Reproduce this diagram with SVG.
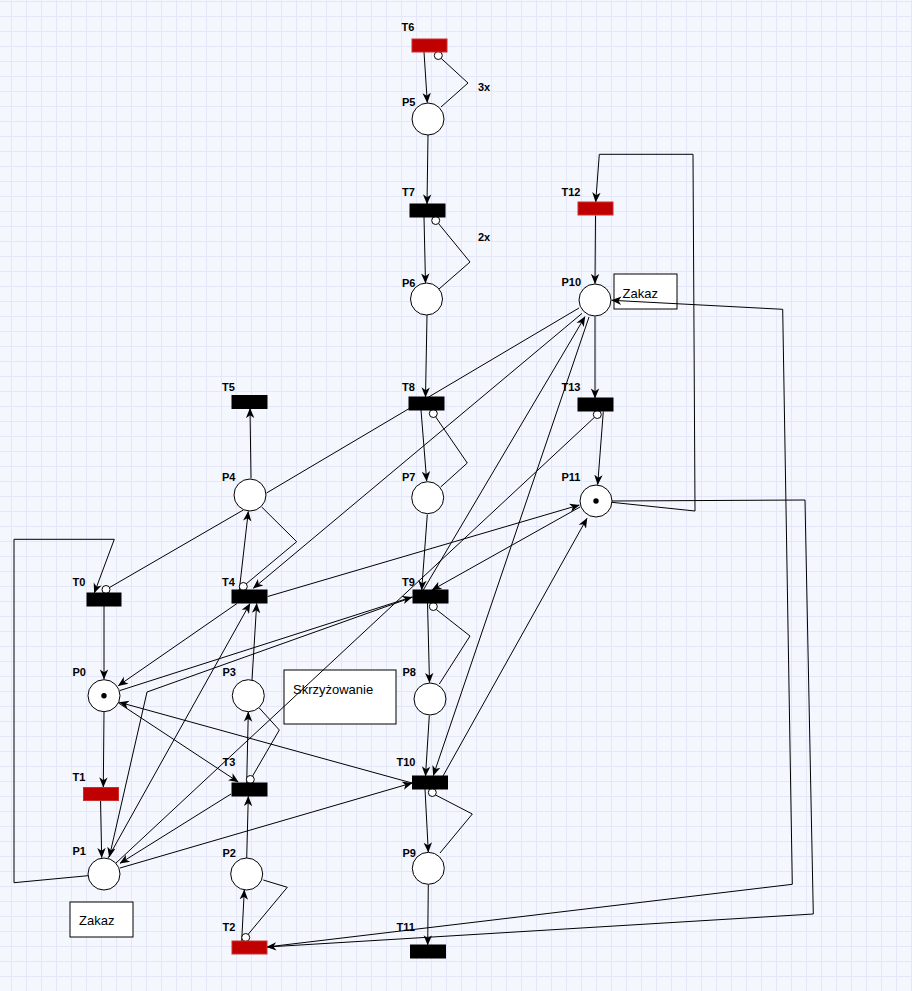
<svg xmlns="http://www.w3.org/2000/svg" width="912" height="991" viewBox="0 0 912 991">
  <defs>
    <pattern id="grid" x="11" y="1" width="15" height="15" patternUnits="userSpaceOnUse">
      <path d="M0.5,0 V15 M0,0.5 H15" stroke="#e4e7f7" stroke-width="1" fill="none"/>
    </pattern>
    <marker id="arr" viewBox="0 0 10 10" refX="9.6" refY="5" markerWidth="10" markerHeight="10" markerUnits="userSpaceOnUse" orient="auto">
      <path d="M0,0.8 L10,5 L0,9.2 L2.8,5 Z" fill="#000"/>
    </marker>
    <style>
      .lbl { font-family: "Liberation Sans", Arial, sans-serif; font-size: 11px; font-weight: bold; fill: #000; }
      .note { font-family: "Liberation Sans", Arial, sans-serif; font-size: 13px; fill: #000; }
      .box { fill: #fff; stroke: #000; stroke-width: 1; }
      .place { fill: #fff; stroke: #000; stroke-width: 1; }
      .tok { fill: #000; }
      .tr { fill: #000; stroke: #000; stroke-width: 1; }
      .tr.red { fill: #c00000; stroke: #c8302e; }
      .inh { fill: #fff; stroke: #000; stroke-width: 1; }
      #connectors path { fill: none; stroke: #000; stroke-width: 1; }
      #connectors path.a { marker-end: url(#arr); }
    </style>
  </defs>

  <!-- canvas -->
  <rect width="912" height="991" fill="#f5f7fe"/>
  <rect width="912" height="991" fill="url(#grid)"/>

  <!-- annotation boxes -->
  <g id="note-zakaz-p10">
    <rect class="box" x="614" y="274" width="63" height="35"/>
    <text class="note" x="622.5" y="297.5">Zakaz</text>
  </g>
  <g id="note-zakaz-p1">
    <rect class="box" x="70" y="902" width="63" height="35"/>
    <text class="note" x="79" y="924.5">Zakaz</text>
  </g>
  <g id="note-skrzyzowanie">
    <rect class="box" x="284" y="670" width="112" height="54"/>
    <text class="note" x="293" y="693.5">Skrzyżowanie</text>
  </g>

  <!-- arcs -->
  <g id="connectors">
    <!-- central chain T6 .. T11 -->
    <path class="a" d="M424,52 L427.3,102.5"/>
    <path d="M441,107 L468,83 L441.3,58.5"/>
    <path class="a" d="M428,135 L427,204"/>
    <path class="a" d="M424,217 L425.5,283"/>
    <path d="M439,289 L470,262 L438.5,223.5"/>
    <path class="a" d="M427,315 L425.5,397"/>
    <path class="a" d="M421,410 L426.7,481"/>
    <path d="M440.7,487 L467.3,463 L435.6,416.8"/>
    <path class="a" d="M427.3,514.5 L421.7,590"/>
    <path class="a" d="M427.5,603 L429.5,682.5"/>
    <path d="M439.3,684 L470,636 L436.3,609.5"/>
    <path class="a" d="M429.3,715.5 L425.5,776"/>
    <path class="a" d="M425,789 L428.3,852"/>
    <path d="M440,853 L472.3,814 L435.6,795"/>
    <path class="a" d="M428.3,884.5 L427.7,945"/>

    <!-- right chain T12 .. P11 -->
    <path class="a" d="M595.5,215.5 L595,283.5"/>
    <path class="a" d="M595,316.5 L595,398"/>
    <path class="a" d="M603.3,411.5 L597.7,484.5"/>
    <path class="a" d="M611.7,502.3 L695,511 L693,154.3 L599.3,154.3 L595.7,202"/>
    <path class="a" d="M266.7,947 L792.3,884.3 L782.7,309.3 L611.7,300.3"/>
    <path class="a" d="M612,501 L805,500 L813.3,914 L266.7,947"/>

    <!-- left chain T0 .. P1 -->
    <path class="a" d="M88,875.7 L14,882.7 L14,539.3 L114.3,539.3 L94.3,593"/>
    <path class="a" d="M104,606 L104,679"/>
    <path class="a" d="M104,711.5 L103.3,787"/>
    <path class="a" d="M100.5,800 L101.7,857.5"/>

    <!-- T5 .. T2 column -->
    <path class="a" d="M251,478.3 L250,408.5"/>
    <path class="a" d="M239.3,590 L248.3,511.5"/>
    <path d="M261.7,507 L296.7,541.7 L246,584"/>
    <path class="a" d="M252,680 L256.7,603.5"/>
    <path class="a" d="M246.7,783 L248.3,712"/>
    <path d="M259.3,708 L279.3,730 L252.3,776.5"/>
    <path class="a" d="M246.7,858 L248.3,796.5"/>
    <path class="a" d="M241.7,941 L244.3,890"/>
    <path d="M263.3,880 L287.3,887.3 L248,934.5"/>

    <!-- cross arcs -->
    <path d="M243.3,510 L109.5,587.5"/>
    <path d="M579,308 L266.5,493"/>
    <path class="a" d="M582,313.4 L253.3,588.3"/>
    <path class="a" d="M267.7,596.5 L579.3,505"/>
    <path d="M116,863 L594.3,417.5"/>
    <path class="a" d="M413,597 L147,692 L109.3,857"/>
    <path class="a" d="M120,690.5 L412,597"/>
    <path class="a" d="M423.3,590 L585,316.7"/>
    <path class="a" d="M580,507 L432,590"/>
    <path class="a" d="M589,317 L433.3,775.5"/>
    <path class="a" d="M443,776 L587,518.3"/>
    <path class="a" d="M237,603.5 L118.3,685.7"/>
    <path class="a" d="M108,858 L250,603.5"/>
    <path class="a" d="M118.5,703 L238.3,782"/>
    <path class="a" d="M231,794 L120,863.3"/>
    <path class="a" d="M120,868 L412,783"/>
    <path class="a" d="M412,783 L119.3,702.3"/>

    <!-- inhibitor ends -->
    <circle class="inh" cx="438.3" cy="55.5" r="4"/>
    <circle class="inh" cx="435.7" cy="220.5" r="4"/>
    <circle class="inh" cx="433.3" cy="413.5" r="4"/>
    <circle class="inh" cx="433.3" cy="606.5" r="4"/>
    <circle class="inh" cx="432.3" cy="792.5" r="4"/>
    <circle class="inh" cx="597.3" cy="414.5" r="4"/>
    <circle class="inh" cx="106" cy="589.5" r="4"/>
    <circle class="inh" cx="243.3" cy="586.5" r="4"/>
    <circle class="inh" cx="250.3" cy="779.5" r="4"/>
    <circle class="inh" cx="245.7" cy="937.5" r="4"/>

    <text class="lbl" x="478" y="91">3x</text>
    <text class="lbl" x="478" y="241">2x</text>
  </g>

  <!-- transitions -->
  <g id="T6"><rect class="tr red" x="412" y="39" width="35" height="13"/><text class="lbl" x="401.5" y="31">T6</text></g>
  <g id="T7"><rect class="tr" x="410" y="204" width="35" height="13"/><text class="lbl" x="402" y="196">T7</text></g>
  <g id="T8"><rect class="tr" x="409" y="397" width="35" height="13"/><text class="lbl" x="402" y="391">T8</text></g>
  <g id="T9"><rect class="tr" x="413" y="590" width="35" height="13"/><text class="lbl" x="402" y="586">T9</text></g>
  <g id="T10"><rect class="tr" x="412.5" y="776" width="35" height="13"/><text class="lbl" x="396.5" y="766">T10</text></g>
  <g id="T11"><rect class="tr" x="410.5" y="945" width="35" height="13"/><text class="lbl" x="396.5" y="931">T11</text></g>
  <g id="T12"><rect class="tr red" x="578" y="202" width="35" height="13"/><text class="lbl" x="561.5" y="196">T12</text></g>
  <g id="T13"><rect class="tr" x="578" y="398" width="35" height="13"/><text class="lbl" x="561.5" y="391">T13</text></g>
  <g id="T5"><rect class="tr" x="232" y="395.5" width="35" height="13"/><text class="lbl" x="222" y="391">T5</text></g>
  <g id="T4"><rect class="tr" x="232" y="590" width="35" height="13"/><text class="lbl" x="222" y="586">T4</text></g>
  <g id="T3"><rect class="tr" x="232" y="783" width="35" height="13"/><text class="lbl" x="222.5" y="766">T3</text></g>
  <g id="T2"><rect class="tr red" x="232" y="941" width="35" height="13"/><text class="lbl" x="222.5" y="931">T2</text></g>
  <g id="T0"><rect class="tr" x="87" y="593" width="34" height="13"/><text class="lbl" x="72.5" y="586">T0</text></g>
  <g id="T1"><rect class="tr red" x="83.5" y="787.5" width="35" height="13"/><text class="lbl" x="72.5" y="781">T1</text></g>

  <!-- places -->
  <g id="P5"><circle class="place" cx="428" cy="119" r="16"/><text class="lbl" x="402" y="106">P5</text></g>
  <g id="P6"><circle class="place" cx="426.5" cy="299" r="16"/><text class="lbl" x="402" y="287">P6</text></g>
  <g id="P7"><circle class="place" cx="427.7" cy="497.7" r="16"/><text class="lbl" x="402" y="481">P7</text></g>
  <g id="P8"><circle class="place" cx="430" cy="699" r="16"/><text class="lbl" x="402.5" y="676">P8</text></g>
  <g id="P9"><circle class="place" cx="428.3" cy="868.3" r="16"/><text class="lbl" x="402.5" y="857">P9</text></g>
  <g id="P10"><circle class="place" cx="595" cy="300" r="16"/><text class="lbl" x="561.5" y="286">P10</text></g>
  <g id="P11"><circle class="place" cx="596" cy="501" r="16"/><circle class="tok" cx="596" cy="501" r="2.7"/><text class="lbl" x="561.5" y="481">P11</text></g>
  <g id="P4"><circle class="place" cx="250" cy="495" r="16"/><text class="lbl" x="222" y="481">P4</text></g>
  <g id="P3"><circle class="place" cx="248.3" cy="695.7" r="16"/><text class="lbl" x="222.5" y="676">P3</text></g>
  <g id="P2"><circle class="place" cx="246.7" cy="874" r="16"/><text class="lbl" x="222.5" y="857">P2</text></g>
  <g id="P0"><circle class="place" cx="104" cy="695.7" r="16"/><circle class="tok" cx="104" cy="695.7" r="2.7"/><text class="lbl" x="72.5" y="676">P0</text></g>
  <g id="P1"><circle class="place" cx="104" cy="874" r="16"/><text class="lbl" x="72.5" y="855">P1</text></g>
</svg>
